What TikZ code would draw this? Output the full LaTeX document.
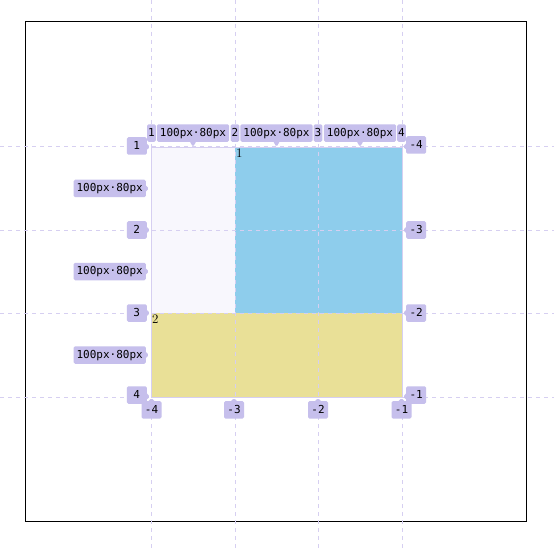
\documentclass[tikz,border=0pt]{standalone}
\usepackage{fontspec}
\newfontfamily\gridmono{DejaVu Sans Mono}
\usepackage{xcolor}
\definecolor{cLine}{HTML}{D6CFF1}
\definecolor{cTag} {HTML}{C6BFEC}
\definecolor{cPale}{HTML}{F8F7FD}
\definecolor{cSky} {HTML}{8ECDEC}
\definecolor{cSand}{HTML}{E9E097}
\usepackage{tikz}
\usetikzlibrary{shapes.callouts, positioning}
\tikzset{
  gline/.style = {cLine, line width=1pt, dash pattern=on 4pt off 4pt},
  tag/.style   = {rectangle, fill=cTag, rounded corners=1.5pt,
                  inner xsep=3pt, inner ysep=3pt, text height=9pt,
                  text depth=2.5pt, font=\gridmono\fontsize{11}{12}\selectfont},
  ptag/.style  = {tag, rectangle callout, callout pointer width=6pt,
                  minimum width=20pt, callout absolute pointer={#1}},
  num/.style   = {tag, inner xsep=1pt},
  cellno/.style = {inner sep=0.5pt, font=\fontsize{13}{13}\selectfont},
}

\begin{document}
\begin{tikzpicture}[x=1pt, y=-1pt]

  \useasboundingbox (0,0) rectangle (554,548);
  \fill[white] (0,0) rectangle (554,548);
  \draw[black, line width=1pt] (25,22) rectangle (526,521);

  % grid areas
  \fill[cPale] (151,147) rectangle (402,397);
  \fill[cSky]  (235,147) rectangle (402,313);
  \fill[cSand] (151,313) rectangle (402,397);
  \draw[cLine, line width=0.8pt] (151,147) rectangle (402,397);

  % grid lines
  \draw[gline] (151,0) -- (151,548);
  \draw[gline] (235,0) -- (235,548);
  \draw[gline] (318,0) -- (318,548);
  \draw[gline] (402,0) -- (402,548);
  \draw[gline] (0,147) -- (554,147);
  \draw[gline] (0,230) -- (554,230);
  \draw[gline] (0,313) -- (554,313);
  \draw[gline] (0,397) -- (554,397);

  \node[cellno, anchor=north west] (a1) at (235.5,148) {1};
  \node[cellno, anchor=north west] (a2) at (151.5,314) {2};

  % top
  \node[num, anchor=south east] (c1) at (156,142) {1};
  \node[ptag={(193,147)}, anchor=south] (w1) at (193,142) {100px·80px};
  \node[num, anchor=south] (c2) at (235,142) {2};
  \node[ptag={(276.5,147)}, anchor=south] (w2) at (276.5,142) {100px·80px};
  \node[num, anchor=south] (c3) at (318,142) {3};
  \node[ptag={(360,147)}, anchor=south] (w3) at (360,142) {100px·80px};
  \node[num, anchor=south west] (c4) at (397,142) {4};

  % left
  \node[ptag={(150,147)}, anchor=east] (r1) at (147,146) {1};
  \node[ptag={(149,188.5)}, anchor=east] (h1) at (146,188.5) {100px·80px};
  \node[ptag={(150,230)}, anchor=east] (r2) at (147,230) {2};
  \node[ptag={(149,271.5)}, anchor=east] (h2) at (146,271.5) {100px·80px};
  \node[ptag={(150,313)}, anchor=east] (r3) at (147,313) {3};
  \node[ptag={(149,355)}, anchor=east] (h3) at (146,355) {100px·80px};
  \node[ptag={(150,397)}, anchor=east] (r4) at (147,395) {4};

  % right
  \node[ptag={(403,147)}, anchor=west] (s4) at (406,145) {-4};
  \node[ptag={(403,230)}, anchor=west] (s3) at (406,230) {-3};
  \node[ptag={(403,313)}, anchor=west] (s2) at (406,313) {-2};
  \node[ptag={(403,397)}, anchor=west] (s1) at (406,395) {-1};

  % bottom
  \node[ptag={(151.5,398)}, anchor=north] (b4) at (151.5,401) {-4};
  \node[ptag={(234,398)}, anchor=north] (b3) at (234,401) {-3};
  \node[ptag={(318,398)}, anchor=north] (b2) at (318,401) {-2};
  \node[ptag={(401.5,398)}, anchor=north] (b1) at (401.5,401) {-1};

\end{tikzpicture}
\end{document}
